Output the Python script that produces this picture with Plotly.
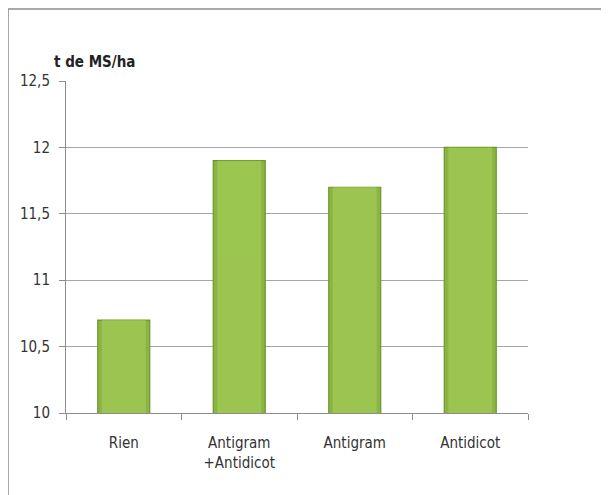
import plotly.graph_objects as go

categories = ["Rien", "Antigram<br>+Antidicot", "Antigram", "Antidicot"]
values = [10.7, 11.9, 11.7, 12.0]
y_ticks = [10, 10.5, 11, 11.5, 12, 12.5]
y_tick_labels = ["10", "10,5", "11", "11,5", "12", "12,5"]

font_family = "DejaVu Sans Condensed, Roboto Condensed, Liberation Sans Narrow, Open Sans, sans-serif"

fig = go.Figure()
fig.add_trace(go.Bar(
    x=categories, y=values,
    marker=dict(color="#8bb543", line=dict(color="#6d952d", width=1.2)),
    width=0.45,
))
fig.add_trace(go.Bar(
    x=categories, y=values,
    marker=dict(color="#a4cf58", line=dict(width=0)),
    width=0.38, opacity=0.65,
))

fig.update_layout(
    width=609, height=495,
    margin=dict(l=58, r=89, t=73, b=90),
    paper_bgcolor="white", plot_bgcolor="white",
    showlegend=False, barmode="overlay",
    font=dict(family=font_family, size=14, color="#333333"),
    xaxis=dict(
        showline=True, linecolor="#8c8c8c", linewidth=1,
        ticks="outside", tickson="boundaries", ticklen=6, tickcolor="#8c8c8c",
        tickfont=dict(size=15, color="#333333"),
        ticklabelstandoff=16,
        showgrid=False,
    ),
    yaxis=dict(
        range=[10, 12.5], tickvals=y_ticks, ticktext=y_tick_labels,
        showline=True, linecolor="#8c8c8c", linewidth=1,
        ticks="outside", ticklen=6, tickcolor="#8c8c8c",
        ticklabelstandoff=6,
        showgrid=True, gridcolor="#a6a6a6", gridwidth=1,
        tickfont=dict(size=15, color="#333333"),
        zeroline=False,
    ),
    shapes=[
        dict(type="line", xref="paper", yref="paper", x0=-0.1255, x1=1.2, y0=1.217, y1=1.217,
             line=dict(color="#8c8c8c", width=1.5)),
        dict(type="line", xref="paper", yref="paper", x0=-0.1255, x1=-0.1255, y0=1.217, y1=-0.3,
             line=dict(color="#8c8c8c", width=1.5)),
    ],
    annotations=[
        dict(text="<b>t de MS/ha</b>", xref="paper", yref="paper", x=-0.03, y=1.057,
             xanchor="left", yanchor="middle", showarrow=False,
             font=dict(size=15, color="#222222", family=font_family)),
    ],
)

fig.write_html("out.html")
